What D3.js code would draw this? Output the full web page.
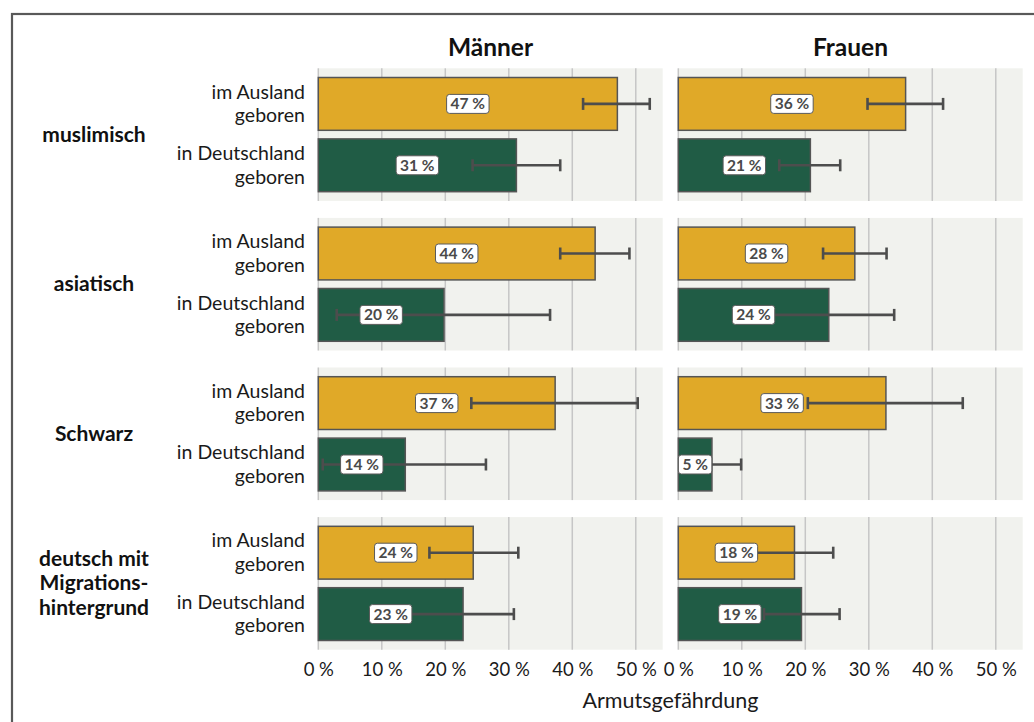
<!DOCTYPE html>
<html><head><meta charset="utf-8">
<script src="https://cdn.jsdelivr.net/npm/d3@7"></script>
<style>
body{margin:0;background:#fff;}
svg{display:block;font-family:Lato, "Open Sans", sans-serif;}
</style></head>
<body><svg id="c" width="1034" height="722"></svg>
<script>
// ---- data ----
const groups = ["muslimisch", "asiatisch", "Schwarz", "deutsch mit|Migrations-|hintergrund"];
const origins = ["im Ausland|geboren", "in Deutschland|geboren"];
const genders = ["Männer", "Frauen"];
const tickValues = [0, 10, 20, 30, 40, 50];
const axisTitle = "Armutsgefährdung";

const maennerAusland      = [47.1, 43.6, 37.3, 24.4];
const maennerAuslandLo    = [41.7, 38.1, 24.1, 17.5];
const maennerAuslandHi    = [52.2, 49.0, 50.3, 31.5];
const maennerDeutschland  = [31.2, 19.8, 13.7, 22.8];
const maennerDeutschlandLo= [24.3, 2.9, 0.7, 14.5];
const maennerDeutschlandHi= [38.1, 36.5, 26.4, 30.8];
const frauenAusland       = [35.8, 27.8, 32.7, 18.3];
const frauenAuslandLo     = [29.8, 22.8, 20.4, 12.0];
const frauenAuslandHi     = [41.7, 32.8, 44.8, 24.4];
const frauenDeutschland   = [20.8, 23.7, 5.3, 19.4];
const frauenDeutschlandLo = [15.9, 13.5, 0.7, 13.5];
const frauenDeutschlandHi = [25.5, 34.0, 9.9, 25.4];

const series = {
  "Männer": [[maennerAusland, maennerAuslandLo, maennerAuslandHi],[maennerDeutschland, maennerDeutschlandLo, maennerDeutschlandHi]],
  "Frauen": [[frauenAusland, frauenAuslandLo, frauenAuslandHi],[frauenDeutschland, frauenDeutschlandLo, frauenDeutschlandHi]]
};
const colors = ["#E0A928", "#205C45"];

// ---- layout ----
const svg = d3.select("#c");
const panelW = 344.4, panelH = 132.6;
const colX = d3.scaleOrdinal().domain(genders).range([318.3, 678.3]);
const rowY = d3.scaleBand().domain(groups).range([68.3, 68.3 + 4*panelH + 3*17]).paddingInner(17/(panelH+17)).paddingOuter(0);
const x = d3.scaleLinear().domain([0, 54.24]).range([0, panelW]);
const yb = d3.scaleBand().domain(origins).range([0, panelH]).paddingInner(0.14).paddingOuter(0.15);

// frame
svg.append("rect").attr("x", 12).attr("y", 14).attr("width", 1040).attr("height", 740)
  .attr("fill", "none").attr("stroke", "#595959").attr("stroke-width", 2.2);

// column titles
genders.forEach(g => {
  svg.append("text").attr("x", colX(g) + panelW/2).attr("y", 56).attr("text-anchor", "middle")
    .attr("font-size", 24.5).attr("font-weight", "bold").attr("fill", "#111").text(g);
});

groups.forEach((grp, gi) => {
  const top = rowY(grp);
  const lines = grp.split("|");
  const gl = svg.append("text").attr("text-anchor", "middle").attr("font-size", 21).attr("font-weight", "bold").attr("fill", "#111");
  const cy = top + panelH/2;
  lines.forEach((l, i) => {
    gl.append("tspan").attr("x", 94).attr("y", cy + 7 + (i - (lines.length-1)/2) * 24.5).text(l);
  });
  origins.forEach(o => {
    const ls = o.split("|");
    const t = svg.append("text").attr("text-anchor", "end").attr("font-size", 19.5).attr("fill", "#1a1a1a");
    const c = top + yb(o) + yb.bandwidth()/2;
    ls.forEach((l, i) => t.append("tspan").attr("x", 305).attr("y", c + 6.5 + (i - 0.5) * 23.5).text(l));
  });

  genders.forEach(g => {
    const p = svg.append("g").attr("transform", `translate(${colX(g)},${top})`);
    p.append("rect").attr("width", panelW).attr("height", panelH).attr("fill", "#F1F2EE");
    p.selectAll("line.grid").data(tickValues).join("line").attr("class", "grid")
      .attr("x1", d => x(d)).attr("x2", d => x(d)).attr("y1", 0).attr("y2", panelH)
      .attr("stroke", "#C6C6C6").attr("stroke-width", 1.5);
    origins.forEach((o, oi) => {
      const [vals, lo, hi] = series[g][oi];
      const v = vals[gi];
      const by = yb(o), bh = yb.bandwidth(), mid = by + bh/2;
      p.append("rect").attr("x", x(0)).attr("y", by).attr("width", x(v) - x(0)).attr("height", bh)
        .attr("fill", colors[oi]).attr("stroke", "#555").attr("stroke-width", 1.5);
      const eb = p.append("g").attr("stroke", "#4d4d4d").attr("stroke-width", 2.6);
      eb.append("line").attr("x1", x(lo[gi])).attr("x2", x(hi[gi])).attr("y1", mid).attr("y2", mid);
      [lo[gi], hi[gi]].forEach(e => eb.append("line").attr("x1", x(e)).attr("x2", x(e)).attr("y1", mid - 6).attr("y2", mid + 6));
      const lbl = p.append("g");
      const txt = lbl.append("text").attr("x", x(v)/2).attr("y", mid + 5.5).attr("text-anchor", "middle")
        .attr("font-size", 15.5).attr("font-weight", "bold").attr("fill", "#4a4a4a")
        .text(Math.round(v) + " %");
      const w = txt.node().getComputedTextLength() + 8;
      lbl.insert("rect", "text").attr("x", x(v)/2 - w/2).attr("y", mid - 9.5).attr("width", w).attr("height", 19)
        .attr("rx", 3).attr("fill", "#fff").attr("stroke", "#5a5a5a").attr("stroke-width", 1);
    });
  });
});

// axes
const lastTop = rowY(groups[groups.length-1]) + panelH;
genders.forEach(g => {
  const ax = svg.append("g").attr("transform", `translate(${colX(g)},${lastTop})`)
    .call(d3.axisBottom(x).tickValues(tickValues).tickSize(0).tickPadding(13).tickFormat(d => d + "\u202F%"));
  ax.select(".domain").remove();
  ax.selectAll("text").attr("font-size", 18.5).attr("font-family", "Lato, sans-serif").attr("fill", "#1a1a1a");
});
svg.append("text").attr("x", (colX("Männer") + colX("Frauen") + panelW)/2).attr("y", 708)
  .attr("text-anchor", "middle").attr("font-size", 21.5).attr("fill", "#1a1a1a").text(axisTitle);
</script></body></html>
